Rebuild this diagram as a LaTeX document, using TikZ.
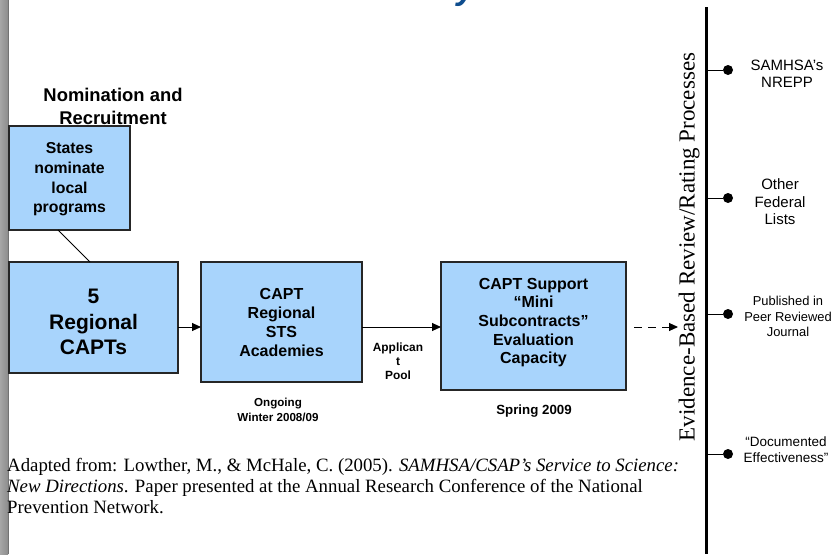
\documentclass[tikz,border=0pt]{standalone}
\usepackage{fontspec}
\setmainfont{Liberation Serif}
\setsansfont{Liberation Sans}
\usetikzlibrary{arrows.meta}
\definecolor{boxblue}{HTML}{A8D4FC}
\definecolor{titleblue}{HTML}{0E4D8E}
\tikzset{
  pbox/.style={draw=black!85, line width=1.2pt, fill=boxblue, inner sep=0pt},
  boxtext/.style={font=\sffamily\bfseries\fontsize{16}{19.3}\selectfont, align=center},
  smalltext/.style={font=\sffamily\bfseries\fontsize{11.6}{15}\selectfont, align=center},
  sidetext/.style={font=\sffamily\fontsize{15}{17.5}\selectfont, align=center},
  conn/.style={line width=1pt, -{Triangle[length=9pt,width=8pt]}},
  tick/.style={line width=1pt},
  dot/.style={circle, fill=black, minimum size=10pt, inner sep=0pt}
}
\begin{document}
\begin{tikzpicture}[x=1pt,y=-1pt]
\useasboundingbox (0,0) rectangle (834,554);
\fill[white] (0,0) rectangle (834,554);
% left grey bar
\shade[left color=black!35, right color=black!45] (0,0) rectangle (8,554);
\draw[black!55, line width=0.8pt] (8,0) -- (8,554);
% cut-off title glyph
\node[text=titleblue, font=\sffamily\bfseries\itshape\fontsize{34}{34}\selectfont, anchor=base, inner sep=0pt] (ttl) at (466,-1) {y};
% boxes
\draw[pbox] (9,126) rectangle (130,230);
\node[boxtext, font=\sffamily\bfseries\fontsize{15.8}{19.6}\selectfont] (states) at (69.5,179.5) {States\\nominate\\local\\programs};
\coordinate (statesb) at (58,230);
\draw[pbox] (9,262) rectangle (178,373);
\node[boxtext, font=\sffamily\bfseries\fontsize{21}{25.5}\selectfont] (capts) at (93.5,322) {5\\Regional\\CAPTs};
\coordinate (captst) at (90,262);
\coordinate (captsr) at (178,327);
\draw[pbox] (201,262) rectangle (362,382);
\node[boxtext] (acad) at (281.5,322.5) {CAPT\\Regional\\STS\\Academies};
\coordinate (acadl) at (201,327);
\coordinate (acadr) at (362,327);
\draw[pbox] (441,262) rectangle (626,390);
\node[boxtext, font=\sffamily\bfseries\fontsize{16}{18.7}\selectfont] (supp) at (533.5,322.5) {CAPT Support\\``Mini\\Subcontracts''\\Evaluation\\Capacity};
\coordinate (suppl) at (441,327);
% headers and captions
\node[font=\sffamily\bfseries\fontsize{18.4}{23}\selectfont, align=center] (nom) at (113,106.5) {Nomination and\\Recruitment};
\node[smalltext] (ongo) at (278,409.5) {Ongoing\\Winter 2008/09};
\node[smalltext, font=\sffamily\bfseries\fontsize{11.9}{14}\selectfont] (pool) at (398,361) {Applican\\t\\Pool};
\node[smalltext, font=\sffamily\bfseries\fontsize{13.3}{15}\selectfont] (spring) at (534,411) {Spring 2009};
% connectors
\draw[line width=1pt] (statesb) -- (captst);
\draw[conn] (captsr) -- (acadl);
\draw[conn] (acadr) -- (suppl);
\coordinate (dashs) at (634,327);
\coordinate (dashe) at (678,327);
\draw[conn, dash pattern=on 8pt off 6pt] (dashs) -- (dashe);
% axis
\coordinate (axtop) at (706,7);
\coordinate (axbot) at (706,554);
\draw[line width=3pt] (axtop) -- (axbot);
\node[rotate=90, font=\fontsize{23}{23}\selectfont] (axlab) at (689,247) {Evidence-Based Review/Rating Processes};
% ticks and dots
\coordinate (t1) at (706,70);
\coordinate (t2) at (706,198);
\coordinate (t3) at (706,314);
\coordinate (t4) at (706,454);
\node[dot] (d1) at (728,70) {};
\node[dot] (d2) at (728,198) {};
\node[dot] (d3) at (728,314) {};
\node[dot] (d4) at (728,454) {};
\draw[tick] (t1) -- (d1);
\draw[tick] (t2) -- (d2);
\draw[tick] (t3) -- (d3);
\draw[tick] (t4) -- (d4);
\node[sidetext] (l1) at (787,74) {SAMHSA’s\\NREPP};
\node[sidetext] (l2) at (780,202) {Other\\Federal\\Lists};
\node[sidetext, font=\sffamily\fontsize{12.9}{15.5}\selectfont] (l3) at (788,316.5) {Published in\\Peer Reviewed\\Journal};
\node[sidetext, font=\sffamily\fontsize{13.5}{16}\selectfont] (l4) at (786,450) {“Documented\\Effectiveness”};
% citation
\node[anchor=north west, align=left, font=\fontsize{18.8}{21}\selectfont, inner sep=0pt] (cite) at (7,458.5) {Adapted from: Lowther, M., \& McHale, C. (2005). \textit{SAMHSA/CSAP’s Service to Science:}\\\textit{New Directions}. Paper presented at the Annual Research Conference of the National\\Prevention Network.};
\end{tikzpicture}
\end{document}
